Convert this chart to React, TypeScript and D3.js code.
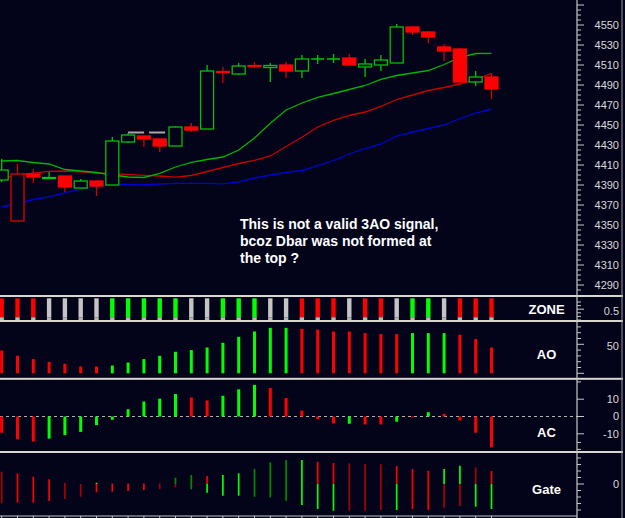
import React, { useEffect, useRef } from 'react';
import * as d3 from 'd3';

const W = 625;
const H = 518;
const BG = '#03031a';
const AXIS_X = 577;
const FONT = 'Arial, "Liberation Sans", sans-serif';

// price candles (one per bar)
const opens = [4395, 4354, 4401, 4397.5, 4399, 4387, 4394, 4390, 4433, 4439, 4436, 4429, 4448, 4446, 4503.5, 4501, 4509.5, 4507.5, 4510, 4504, 4516, 4516, 4517, 4508, 4510, 4512, 4548, 4543, 4528, 4526, 4493, 4498];
const highs = [4416, 4411, 4406, 4403, 4399, 4396, 4394, 4438, 4442, 4439, 4436, 4449, 4452, 4510, 4508, 4512, 4513, 4512, 4513, 4520, 4520, 4521, 4521, 4516, 4520, 4551, 4548, 4544, 4531, 4527, 4504, 4502];
const lows = [4393, 4354, 4392, 4396, 4383, 4387, 4379, 4390, 4432, 4428, 4423, 4429, 4443, 4446, 4492, 4500, 4507, 4493, 4497, 4497, 4511, 4512, 4510, 4498, 4504, 4512, 4540, 4532, 4514, 4492, 4489, 4476];
const closes = [4405, 4401, 4398, 4396.5, 4388, 4394, 4389, 4434, 4440, 4436, 4429, 4448, 4445, 4504, 4502.5, 4509, 4508.5, 4509.5, 4504, 4516, 4516, 4516, 4510, 4511, 4515, 4548, 4543, 4538, 4524, 4493, 4498, 4486];
const candleColors = 'GRRGRGRGGRRGRGRGRGRGGGRGGGRRRRGR';

// alligator-style averages
const lips = [4414, 4414.5, 4412.5, 4411, 4405.5, 4404, 4402.5, 4400, 4398, 4397.5, 4401.7, 4408, 4412.7, 4415.5, 4418, 4425, 4437, 4451.7, 4465, 4472, 4477.7, 4481.5, 4485.5, 4489.5, 4495.7, 4499.5, 4502, 4504.5, 4510.5, 4517.7, 4521.5, 4521.7];
const teeth = [4396, 4400, 4401.8, 4403.6, 4404, 4403.2, 4402, 4401.3, 4400.5, 4399.6, 4399, 4397.8, 4399.5, 4403.5, 4407.5, 4411.5, 4414.6, 4419, 4428.5, 4437.7, 4448, 4454.7, 4459.5, 4463, 4468.7, 4475.5, 4480, 4484.5, 4487.5, 4491, 4495.5, 4501.7];
const jaw = [4368, 4371.5, 4375.5, 4378.2, 4382.2, 4385.8, 4388.8, 4390.8, 4390.5, 4390.2, 4391, 4391.6, 4391.7, 4391.7, 4391.2, 4393.2, 4397, 4400, 4402.5, 4404.5, 4409.4, 4414.5, 4421, 4426.5, 4431, 4439, 4443, 4446.5, 4450, 4456.5, 4462, 4466];

// gray level drawn across bars 8..11
const levelPrice = 4442.5;
const levelFrom = 8;
const levelTo = 11;

const zone = 'RRRYYYYGGGGGYYGGGYYRRRYRRYGGYRRR';

const ao = [39.3, 30.2, 24.5, 19.8, 16.4, 11.7, 11.7, 13.4, 18.6, 24.5, 30.2, 37.1, 40, 44.5, 52.6, 62.9, 72.1, 78.4, 78.4, 76.7, 75.3, 72.1, 72.1, 69.3, 67.6, 67.6, 69.3, 69.3, 69.3, 66.4, 59, 44.5];
const aoColors = 'RRRRRRRGGGGGGGGGGGGRRRRRRRGGGRRR';

const ac = [-9.4, -13.2, -14.5, -12.8, -10.8, -8.9, -5, -1.9, 4.2, 8.7, 10.3, 13, 11, 9.3, 12, 15.7, 18.3, 16.5, 10.7, 3.4, -1.6, -4, -4.2, -4.6, -4.6, -3, -0.6, 2.5, 1.6, -2.3, -9.4, -17.8];
const acColors = 'RRRGGGGGGGGGRRGGGRRRRRGRRGRGRRRR';

const gateUp = [12.3, 10.7, 7.3, 4.7, 1.3, 0, 1.3, 0.5, 0.5, 0.5, 0.5, 6.3, 9, 8, 9, 10.7, 15, 21.7, 24, 24, 22.3, 21, 20.7, 20, 19.7, 18, 15, 13.3, 15, 18.3, 16.7, 13];
const gateUpColors = 'rRRRrrGRRRrggRGGgggGRRrrrRRRGGrR';
const gateLo = [19.3, 18.7, 18.7, 17, 15, 12.7, 8.3, 7.7, 7, 6, 5, 3.3, 5.3, 8.7, 11.7, 11.7, 12.7, 13.3, 16.7, 21, 25, 26.7, 26.7, 27, 26, 26, 25, 26, 23.7, 22, 22.7, 25];
const gateLoColors = 'rRRRrrRRRRrrgGGGgggGGGrrrGRRrrGG';

const note = ['This is not a valid 3AO signal,', 'bcoz Dbar was not formed at', 'the top ?'];

const priceLabels = d3.range(4290, 4551, 20);
const aoLabels = [50];
const acLabels = [10, 0, -10];

const COL: Record<string, string> = {
  R: '#ff0000',
  r: '#a80000',
  G: '#00ff00',
  g: '#008a00',
  Y: '#c4c4c4',
};

export default function App() {
  const ref = useRef<SVGSVGElement | null>(null);

  useEffect(() => {
    const svg = d3.select(ref.current);
    svg.selectAll('*').remove();
    const n = opens.length;
    const idx = d3.range(n);

    const x = d3.scaleLinear().domain([0, n - 1]).range([1.7, 491.5]);
    const yP = d3.scaleLinear().domain([4290, 4550]).range([285, 25]);
    const yZ = d3.scaleLinear().domain([0, 1]).range([320, 302]);
    const yAO = d3.scaleLinear().domain([0, 50]).range([373.3, 344.3]);
    const yAC = d3.scaleLinear().domain([-10, 10]).range([433.8, 399.2]);
    const yG = d3.scaleLinear().domain([-30, 30]).range([514, 454]);

    svg.append('rect').attr('width', W).attr('height', H).attr('fill', BG);

    // ---- price panel
    const gp = svg.append('g');
    const ma = (vals: number[], color: string) =>
      gp.append('path')
        .attr('d', d3.line<number>().x((_, i) => x(i)).y((v) => yP(v))(vals))
        .attr('fill', 'none')
        .attr('stroke', color)
        .attr('stroke-width', 1.3);
    ma(jaw, '#0000d8');
    ma(teeth, '#c80000');
    ma(lips, '#00b400');

    gp.append('line')
      .attr('x1', x(levelFrom)).attr('x2', x(levelTo))
      .attr('y1', yP(levelPrice)).attr('y2', yP(levelPrice))
      .attr('stroke', '#a8a8a8').attr('stroke-width', 2)
      .attr('stroke-dasharray', '16,5');

    const bw = 13;
    idx.forEach((i) => {
      const c = candleColors[i] === 'G' ? '#00c800' : '#ff0000';
      const o = opens[i], cl = closes[i];
      gp.append('line')
        .attr('x1', x(i)).attr('x2', x(i))
        .attr('y1', yP(highs[i])).attr('y2', yP(lows[i]))
        .attr('stroke', candleColors[i] === 'G' ? '#00c800' : '#d00000').attr('stroke-width', 1.3);
      const top = yP(Math.max(o, cl));
      const bot = yP(Math.min(o, cl));
      if (bot - top < 0.5) {
        gp.append('line')
          .attr('x1', x(i) - bw / 2).attr('x2', x(i) + bw / 2)
          .attr('y1', top).attr('y2', top)
          .attr('stroke', c).attr('stroke-width', 1.5);
        return;
      }
      const up = cl > o;
      gp.append('rect')
        .attr('x', x(i) - bw / 2)
        .attr('y', top)
        .attr('width', bw)
        .attr('height', bot - top)
        .attr('fill', up ? BG : c)
        .attr('stroke', up ? (candleColors[i] === 'G' ? '#00c000' : '#e00000') : c)
        .attr('stroke-width', 1.3);
    });

    const t = gp.append('text')
      .attr('fill', '#ffffff')
      .attr('font-family', FONT)
      .attr('font-weight', 'bold')
      .attr('font-size', 14);
    note.forEach((line, k) => {
      t.append('tspan').attr('x', 240).attr('y', 228.5 + k * 17.2).text(line);
    });

    // ---- zone panel
    idx.forEach((i) => {
      svg.append('rect')
        .attr('x', x(i) - 2.2).attr('width', 4.4)
        .attr('y', 298.3).attr('height', yZ(0.15) - 298.3)
        .attr('fill', COL[zone[i]]);
      svg.append('rect')
        .attr('x', x(i) - 2.2).attr('width', 4.4)
        .attr('y', yZ(0.15)).attr('height', yZ(0) - yZ(0.15))
        .attr('fill', '#b8b8b8');
    });

    // ---- AO panel
    idx.forEach((i) => {
      svg.append('rect')
        .attr('x', x(i) - 1.5).attr('width', 3)
        .attr('y', yAO(ao[i])).attr('height', yAO(0) - yAO(ao[i]))
        .attr('fill', COL[aoColors[i]]);
    });

    // ---- AC panel
    svg.append('line')
      .attr('x1', 0).attr('x2', AXIS_X)
      .attr('y1', yAC(0)).attr('y2', yAC(0))
      .attr('stroke', '#b0b0b0').attr('stroke-dasharray', '3,3');
    idx.forEach((i) => {
      const v = ac[i];
      svg.append('rect')
        .attr('x', x(i) - 1.5).attr('width', 3)
        .attr('y', Math.min(yAC(v), yAC(0))).attr('height', Math.abs(yAC(v) - yAC(0)))
        .attr('fill', COL[acColors[i]]);
    });

    // ---- Gate panel
    idx.forEach((i) => {
      svg.append('line')
        .attr('x1', x(i)).attr('x2', x(i))
        .attr('y1', yG(gateUp[i])).attr('y2', yG(0))
        .attr('stroke', COL[gateUpColors[i]]).attr('stroke-width', 1.7);
      svg.append('line')
        .attr('x1', x(i)).attr('x2', x(i))
        .attr('y1', yG(0)).attr('y2', yG(-gateLo[i]))
        .attr('stroke', COL[gateLoColors[i]]).attr('stroke-width', 1.7);
    });

    // ---- frame: separators, axes
    const sepColor = '#d8d8d0';
    [296, 321, 378.8, 452].forEach((yy) => {
      svg.append('rect').attr('x', 0).attr('width', 623).attr('y', yy - 1).attr('height', 2).attr('fill', sepColor);
    });
    svg.append('line').attr('x1', 0).attr('x2', AXIS_X).attr('y1', 516).attr('y2', 516).attr('stroke', '#c8c8c8');
    idx.forEach((i) => {
      svg.append('line').attr('x1', x(i)).attr('x2', x(i)).attr('y1', 516).attr('y2', 518).attr('stroke', '#c8c8c8');
    });
    svg.append('line').attr('x1', AXIS_X).attr('x2', AXIS_X).attr('y1', 0).attr('y2', 518).attr('stroke', '#c8c8c8').attr('stroke-width', 1.2);
    svg.append('line').attr('x1', 622).attr('x2', 622).attr('y1', 0).attr('y2', 518).attr('stroke', '#9a9a9a');

    const ticks = (vals: number[], scale: d3.ScaleLinear<number, number>, isLong: (v: number) => boolean) => {
      vals.forEach((v) => {
        svg.append('line')
          .attr('x1', AXIS_X).attr('x2', AXIS_X + (isLong(v) ? 7 : 4))
          .attr('y1', scale(v)).attr('y2', scale(v))
          .attr('stroke', '#c8c8c8');
      });
    };
    ticks(d3.range(4270, 4575, 5).filter((p) => yP(p) > 2 && yP(p) < 293), yP, (p) => (p - 4290) % 20 === 0);
    ticks(d3.range(0, 1.01, 0.2), yZ, (v) => Math.abs(v - 0.6) < 0.01);
    ticks(d3.range(0, 90, 10), yAO, (v) => v === 0 || v === 50);
    ticks([20, 10, 0, -10, -15, -19], yAC, (v) => v % 10 === 0 && v !== 20);
    ticks(d3.range(-26, 27, 6.5), yG, (v) => v === 0);

    const lab = (txt: string, yy: number) =>
      svg.append('text')
        .attr('x', 619).attr('y', yy).attr('dy', '0.35em')
        .attr('text-anchor', 'end')
        .attr('fill', '#d8d8d8')
        .attr('font-family', FONT)
        .attr('font-size', 11)
        .text(txt);
    priceLabels.forEach((p) => lab(String(p), yP(p)));
    lab('0.5', 311);
    aoLabels.forEach((v) => lab(String(v), yAO(v) + 1.5));
    acLabels.forEach((v) => lab(String(v), yAC(v)));
    lab('0', yG(0));

    const panelLab = (txt: string, yy: number) =>
      svg.append('text')
        .attr('x', 546.5).attr('y', yy)
        .attr('text-anchor', 'middle')
        .attr('fill', '#ffffff')
        .attr('font-family', FONT)
        .attr('font-weight', 'bold')
        .attr('font-size', 13)
        .text(txt);
    panelLab('ZONE', 313.5);
    panelLab('AO', 359.3);
    panelLab('AC', 437);
    panelLab('Gate', 493.5);
  }, []);

  return (
    <svg
      ref={ref}
      width={W}
      height={H}
      style={{ position: 'absolute', left: 0, top: 0, display: 'block' }}
    />
  );
}
